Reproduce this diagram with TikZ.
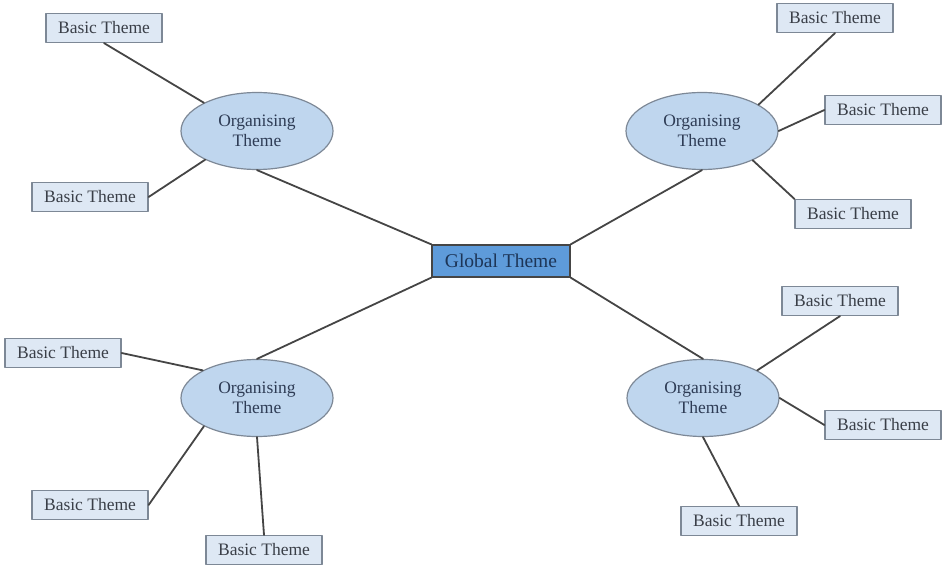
\documentclass[tikz,border=0pt]{standalone}
\usepackage{fontspec}
\setmainfont{Liberation Serif}
\usetikzlibrary{shapes.geometric}
\definecolor{basicfill}{HTML}{DEE8F4}
\definecolor{orgfill}{HTML}{BFD6EE}
\definecolor{globalfill}{HTML}{5E9BDA}
\definecolor{boxline}{HTML}{7D8896}
\definecolor{linkcol}{HTML}{454545}
\definecolor{basictext}{HTML}{3A3F48}
\definecolor{orgtext}{HTML}{2E3C55}
\definecolor{globaltext}{HTML}{1D3557}
\begin{document}
\begin{tikzpicture}[x=1pt, y=-1pt, line join=round, line cap=round,
		basic/.style={draw=boxline, line width=1.2pt, fill=basicfill, minimum width=116pt, minimum height=29pt, inner sep=0pt, text=basictext, font=\fontsize{17.5}{19}\selectfont},
		organising/.style={ellipse, draw=boxline, line width=1.2pt, fill=orgfill, minimum width=152pt, minimum height=77pt, inner sep=0pt, align=center, text=orgtext, font=\fontsize{17.5}{20}\selectfont},
		global/.style={draw=linkcol, line width=1.2pt, fill=globalfill, minimum width=138pt, minimum height=32pt, inner sep=0pt, text=globaltext, font=\fontsize{19.5}{21}\selectfont},
		link/.style={draw=linkcol, line width=1.8pt}]
	\useasboundingbox (0,0) rectangle (943,567);
	% centre
	\node[global] (g) at (501,261) {Global Theme};
	% organising themes
	\node[organising] (otl) at (257,131) {Organising\\Theme};
	\node[organising] (otr) at (702,131) {Organising\\Theme};
	\node[organising] (obl) at (257,398) {Organising\\Theme};
	\node[organising] (obr) at (703,398) {Organising\\Theme};
	% basic themes
	\node[basic] (tla) at (104,28) {Basic Theme};
	\node[basic] (tlb) at (90,197) {Basic Theme};
	\node[basic] (tra) at (835,18) {Basic Theme};
	\node[basic] (trb) at (883,110) {Basic Theme};
	\node[basic] (trc) at (853,214) {Basic Theme};
	\node[basic] (bla) at (63,353) {Basic Theme};
	\node[basic] (blb) at (90,505) {Basic Theme};
	\node[basic] (blc) at (264,550) {Basic Theme};
	\node[basic] (bra) at (840,301) {Basic Theme};
	\node[basic] (brb) at (883,425) {Basic Theme};
	\node[basic] (brc) at (739,521) {Basic Theme};
	% links
	\draw[link] (otl.south) -- (g.north west);
	\draw[link] (otr.south) -- (g.north east);
	\draw[link] (obl.north) -- (g.south west);
	\draw[link] (obr.north) -- (g.south east);
	\draw[link] (tla.south) -- (otl.152);
	\draw[link] (tlb.east) -- (otl.209);
	\draw[link] (tra.south) -- (otr.25);
	\draw[link] (trb.west) -- (otr.east);
	\draw[link] (trc.north west) -- (otr.330);
	\draw[link] (bla.east) -- (obl.153);
	\draw[link] (blb.east) -- (obl.208);
	\draw[link] (blc.north) -- (obl.south);
	\draw[link] (bra.south) -- (obr.27);
	\draw[link] (brb.west) -- (obr.east);
	\draw[link] (brc.north) -- (obr.south);
\end{tikzpicture}
\end{document}
